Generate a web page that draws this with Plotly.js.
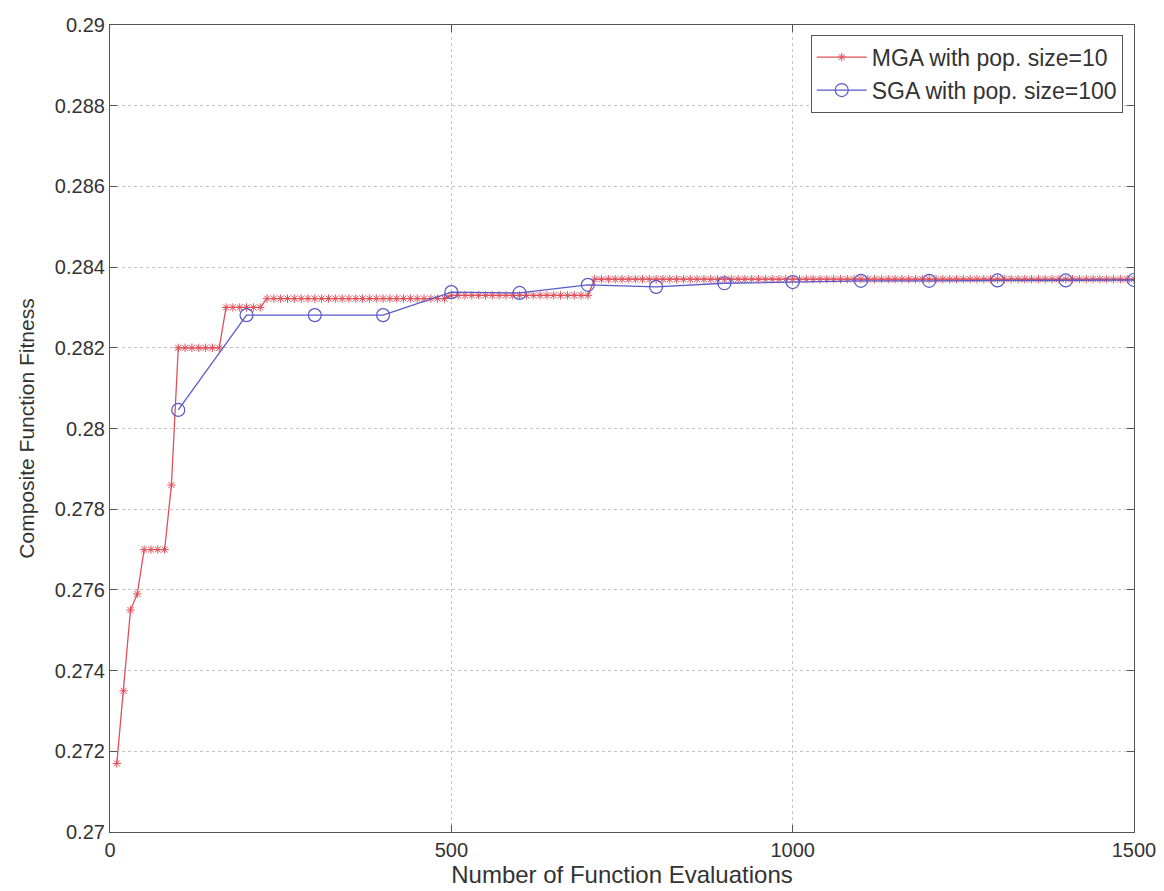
<!DOCTYPE html>
<html>
<head>
<meta charset="utf-8">
<script src="https://cdn.plot.ly/plotly-3.0.1.min.js"></script>
<style>html,body{margin:0;padding:0;background:#fff;}#chart{width:1164px;height:891px;}</style>
</head>
<body>
<div id="chart"></div>
<script>
var mgaX = [10,20,30,40,50,60,70,80,90,100,110,120,130,140,150,160,170,180,190,200,
210,220,230,240,250,260,270,280,290,300,310,320,330,340,350,360,370,380,390,400,
410,420,430,440,450,460,470,480,490,500,510,520,530,540,550,560,570,580,590,600,
610,620,630,640,650,660,670,680,690,700,710,720,730,740,750,760,770,780,790,800,
810,820,830,840,850,860,870,880,890,900,910,920,930,940,950,960,970,980,990,1000,
1010,1020,1030,1040,1050,1060,1070,1080,1090,1100,1110,1120,1130,1140,1150,1160,1170,1180,1190,1200,
1210,1220,1230,1240,1250,1260,1270,1280,1290,1300,1310,1320,1330,1340,1350,1360,1370,1380,1390,1400,
1410,1420,1430,1440,1450,1460,1470,1480,1490,1500];
var mgaY = [0.2717,0.2735,0.2755,0.2759,0.2770,0.2770,0.2770,0.2770,0.2786,0.2820,
0.2820,0.2820,0.2820,0.2820,0.2820,0.2820,0.2830,0.2830,0.2830,0.2830,
0.2830,0.2830,0.28322,0.28322,0.28322,0.28322,0.28322,0.28322,0.28322,0.28322,
0.28322,0.28322,0.28322,0.28322,0.28322,0.28322,0.28322,0.28322,0.28322,0.28322,
0.28322,0.28322,0.28322,0.28322,0.28322,0.28322,0.28322,0.28322,0.28322,0.2833,
0.2833,0.2833,0.2833,0.2833,0.2833,0.2833,0.2833,0.2833,0.2833,0.2833,
0.2833,0.2833,0.2833,0.2833,0.2833,0.2833,0.2833,0.2833,0.2833,0.2833,
0.2837,0.2837,0.2837,0.2837,0.2837,0.2837,0.2837,0.2837,0.2837,0.2837,
0.2837,0.2837,0.2837,0.2837,0.2837,0.2837,0.2837,0.2837,0.2837,0.2837,
0.2837,0.2837,0.2837,0.2837,0.2837,0.2837,0.2837,0.2837,0.2837,0.2837,
0.2837,0.2837,0.2837,0.2837,0.2837,0.2837,0.2837,0.2837,0.2837,0.2837,
0.2837,0.2837,0.2837,0.2837,0.2837,0.2837,0.2837,0.2837,0.2837,0.2837,
0.2837,0.2837,0.2837,0.2837,0.2837,0.2837,0.2837,0.2837,0.2837,0.2837,
0.2837,0.2837,0.2837,0.2837,0.2837,0.2837,0.2837,0.2837,0.2837,0.2837,
0.2837,0.2837,0.2837,0.2837,0.2837,0.2837,0.2837,0.2837,0.2837,0.2837];
var sgaX = [100,200,300,400,500,600,700,800,900,1000,1100,1200,1300,1400,1500];
var sgaY = [0.28046,0.28281,0.28281,0.28281,0.28338,0.28336,0.28356,0.28351,0.2836,0.28363,0.28366,0.28366,0.28367,0.28367,0.28368];
var yTickVals = [0.27,0.272,0.274,0.276,0.278,0.28,0.282,0.284,0.286,0.288,0.29];
var yTickText = ["0.27","0.272","0.274","0.276","0.278","0.28","0.282","0.284","0.286","0.288","0.29"];
var xTickVals = [0,500,1000,1500];
var xTickText = ["0","500","1000","1500"];
var seriesNames = ["MGA with pop. size=10","SGA with pop. size=100"];

var fnt = "Liberation Sans, Arial, sans-serif";
var traces = [
  {x: mgaX, y: mgaY, name: seriesNames[0], mode: "lines+markers", type: "scatter",
   line: {color: "#e0505a", width: 1.3},
   marker: {symbol: "asterisk-open", size: 7, color: "#e0505a", line: {color: "#e0505a", width: 1}}},
  {x: sgaX, y: sgaY, name: seriesNames[1], mode: "lines+markers", type: "scatter",
   line: {color: "#5a5ac8", width: 1.3},
   marker: {symbol: "circle-open", size: 13, color: "#5a5ac8", line: {color: "#5a5ac8", width: 1.2}}}
];
var axisCommon = {
  showline: true, mirror: "ticks", linecolor: "#555", linewidth: 1.2,
  ticks: "inside", ticklen: 7, tickcolor: "#555",
  showgrid: true, gridcolor: "#c4c4c4", griddash: "dot", gridwidth: 1,
  zeroline: false, tickfont: {family: fnt, size: 20, color: "#333"}, automargin: false
};
var layout = {
  width: 1164, height: 891,
  margin: {l: 110, r: 30, t: 25, b: 59},
  paper_bgcolor: "#fff", plot_bgcolor: "#fff",
  showlegend: true,
  legend: {x: 0.989, y: 0.988, xanchor: "right", yanchor: "top",
    bordercolor: "#555", borderwidth: 1, bgcolor: "#fff", itemwidth: 50,
    font: {family: fnt, size: 23, color: "#333"}, tracegroupgap: 0},
  xaxis: Object.assign({}, axisCommon, {range: [0, 1500], tickvals: xTickVals, ticktext: xTickText,
    title: {text: "Number of Function Evaluations", font: {family: fnt, size: 24, color: "#333"}, standoff: 6}}),
  yaxis: Object.assign({}, axisCommon, {range: [0.27, 0.29], tickvals: yTickVals, ticktext: yTickText,
    title: {text: "Composite Function Fitness", font: {family: fnt, size: 21, color: "#333"}, standoff: 14}})
};
Plotly.newPlot("chart", traces, layout, {displayModeBar: false});
</script>
</body>
</html>
